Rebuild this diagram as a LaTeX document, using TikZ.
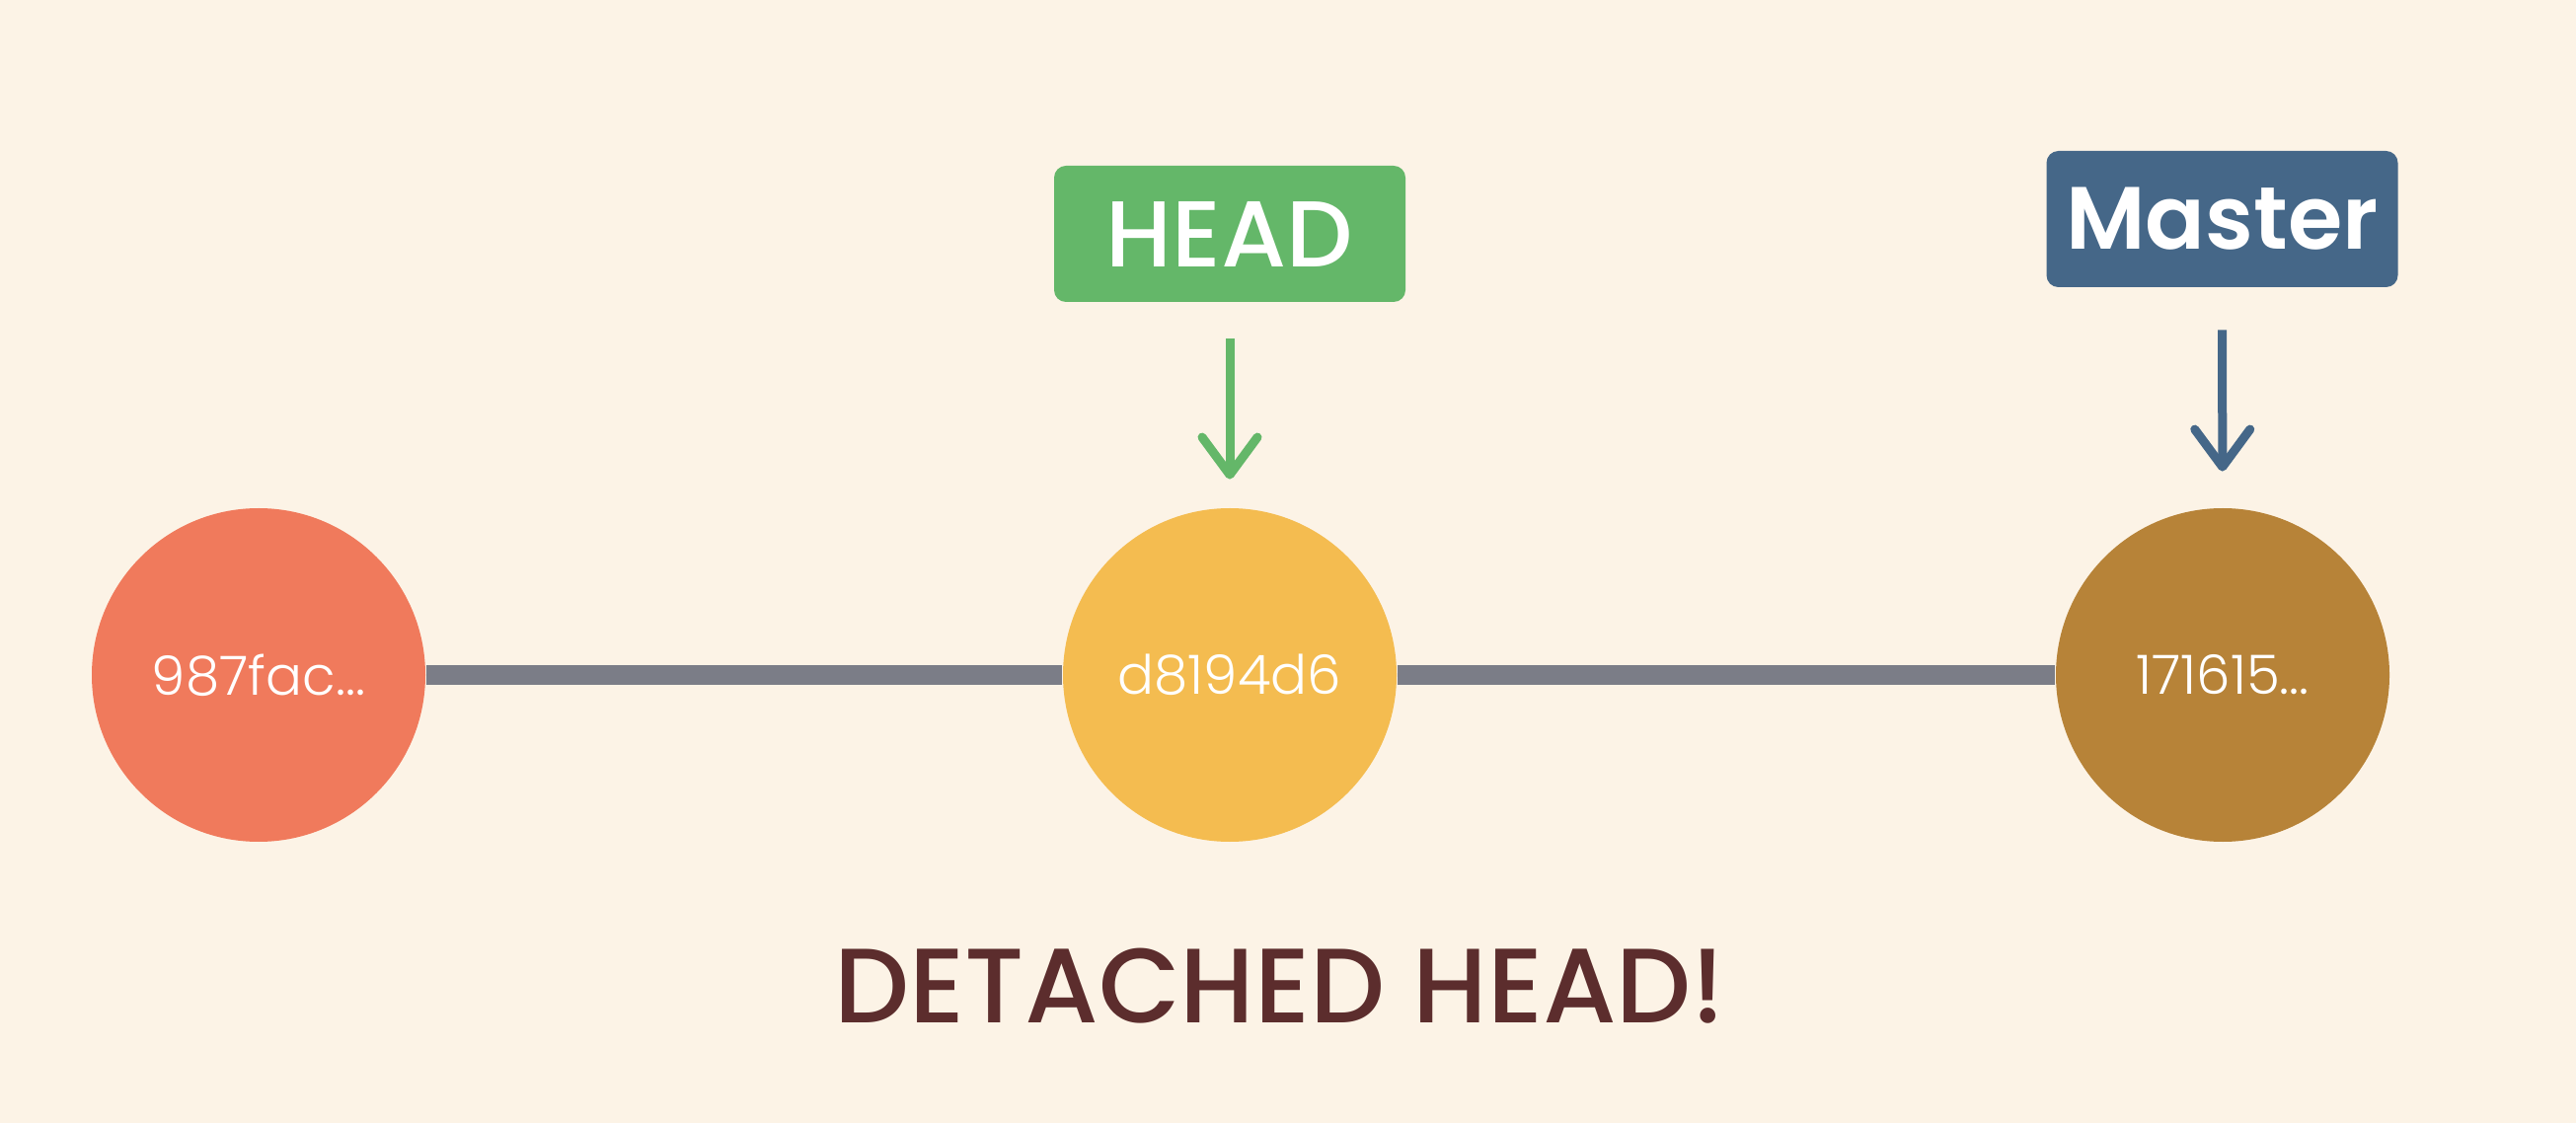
\documentclass[tikz,border=0pt]{standalone}
\usepackage{fontspec}
\setmainfont{Poppins}
\newfontfamily\hashfont{Poppins Light}
\newfontfamily\labfont{Poppins Medium}
\newfontfamily\semifont{Poppins SemiBold}
\usepackage{xcolor}
\usepackage{tikz}
\usetikzlibrary{arrows.meta, positioning, backgrounds}

\definecolor{bgcream}{HTML}{FCF3E6}
\definecolor{cred}{HTML}{F07A5C}
\definecolor{cyellow}{HTML}{F4BC50}
\definecolor{cbrown}{HTML}{B78338}
\definecolor{lgreen}{HTML}{64B769}
\definecolor{lblue}{HTML}{456788}
\definecolor{lgray}{HTML}{7B7D87}
\definecolor{ttext}{HTML}{5C2D2D}

\begin{document}
\begin{tikzpicture}[thick,
    commit/.style={shape=circle,minimum size=3.38cm,inner sep=0pt,text=white,font=\hashfont\fontsize{15.6}{16}\selectfont},
    label/.style={shape=rectangle,rounded corners=0.12cm,minimum width=3.56cm,minimum height=1.38cm,inner sep=0pt,text=white},
    pointer/.style={line width=0.09cm,-{Straight Barb[round,length=0.38cm,width=0.56cm]}}]
    \useasboundingbox [fill=bgcream] (0,0) rectangle (26.1,-11.38);

    \node (n1) at (2.62,-6.84) [commit,fill=cred] {987fac...}; %
    \node (n2) at (12.46,-6.84) [commit,fill=cyellow] {d8194d6}; %
    \node (n3) at (22.52,-6.84) [commit,fill=cbrown] {171615...}; %
    \node (nh) at (12.46,-2.37) [label,fill=lgreen,font=\labfont\fontsize{27}{30}\selectfont] {HEAD}; %
    \node (nm) at (22.515,-2.22) [label,fill=lblue,font=\semifont\fontsize{25.5}{30}\selectfont] {Master}; %
    \node (nt) at (12.97,-9.99) [text=ttext,font=\labfont\fontsize{30.5}{34}\selectfont] {DETACHED HEAD!}; %

    %%%% arcs
    \draw [color=lgray,line width=0.19cm] (n1) to (n2); %
    \draw [color=lgray,line width=0.19cm] (n2) to (n3); %

    %%%% pointers
    \draw [color=lgreen,pointer,shorten <=0.36cm,shorten >=0.28cm] (nh) to (n2); %
    \draw [color=lblue,pointer,shorten <=0.42cm,shorten >=0.36cm] (nm) to (n3); %
  \end{tikzpicture}
\end{document}
